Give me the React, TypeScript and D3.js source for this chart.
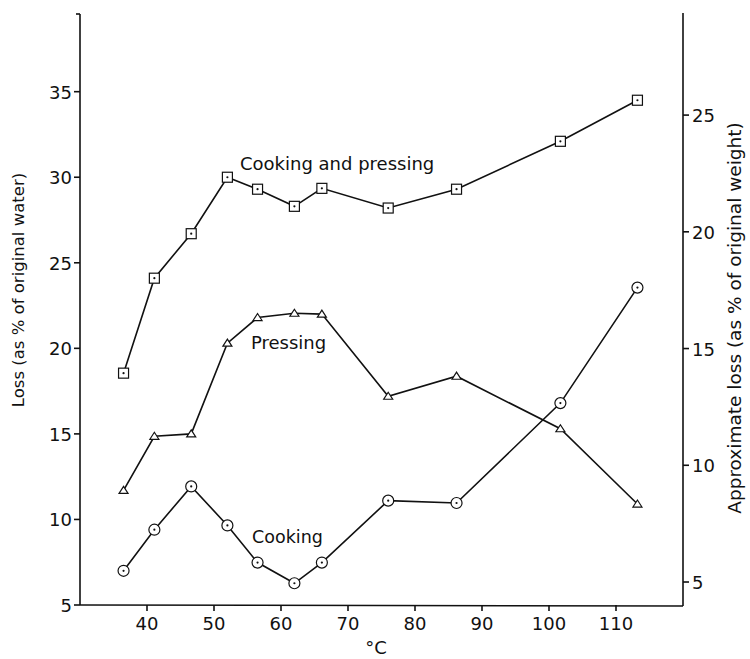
import React from "react";
import * as d3 from "d3";

const temperatures = [36.5, 41.1, 46.6, 52.0, 56.5, 62.0, 66.1, 76.0, 86.2, 101.7, 113.2];
const cookingAndPressing = [18.55, 24.1, 26.7, 30.0, 29.3, 28.3, 29.35, 28.2, 29.3, 32.1, 34.5];
const pressing = [11.7, 14.86, 15.0, 20.3, 21.8, 22.05, 22.0, 17.2, 18.37, 15.3, 10.9];
const cooking = [7.0, 9.4, 11.93, 9.65, 7.48, 6.27, 7.48, 11.1, 10.96, 16.8, 23.55];

const xTicks = [40, 50, 60, 70, 80, 90, 100, 110];
const leftTicks = [5, 10, 15, 20, 25, 30, 35];
const rightTicks = [5, 10, 15, 20, 25];

const seriesNames = ["Cooking and pressing", "Pressing", "Cooking"];

const W = 750;
const H = 659;
const left = 80;
const right = 683;
const top = 14;
const bottom = 605;

const FONT = "'DejaVu Sans', sans-serif";

export default function App() {
  const x = d3.scaleLinear().domain([30, 120]).range([left, right]);
  const yL = d3.scaleLinear().domain([5, 39.54]).range([bottom, top]);
  const yR = d3.scaleLinear().domain([4.015, 29.33]).range([bottom, top]);

  const line = d3
    .line<[number, number]>()
    .x((d) => x(d[0]))
    .y((d) => yL(d[1]));

  const mk = (vals: number[]) => temperatures.map((t, i) => [t, vals[i]] as [number, number]);

  const sq = mk(cookingAndPressing);
  const pr = mk(pressing);
  const ck = mk(cooking);

  const stroke = "#111";

  return (
    <svg width={W} height={H} style={{ position: "absolute", left: 0, top: 0, background: "#fff" }}>
      <rect x={0} y={0} width={W} height={H} fill="#fff" />
      {/* axes */}
      <g stroke={stroke} strokeWidth={1.6} fill="none">
        <line x1={left} y1={top} x2={left} y2={bottom} />
        <line x1={left - 4} y1={top} x2={left} y2={top} />
        <line x1={right} y1={top - 1} x2={right} y2={bottom + 1} />
        <line x1={left} y1={bottom} x2={right} y2={bottom + 1} />
        {xTicks.map((t) => (
          <line key={"xt" + t} x1={x(t)} x2={x(t)} y1={bottom} y2={bottom + 6} />
        ))}
        {leftTicks.map((t) => (
          <line key={"lt" + t} x1={left - 6} x2={left} y1={yL(t)} y2={yL(t)} />
        ))}
        {rightTicks.map((t) => (
          <line key={"rt" + t} x1={right} x2={right + 6} y1={yR(t)} y2={yR(t)} />
        ))}
      </g>
      {/* tick labels */}
      <g fontFamily={FONT} fontSize={18} fill={stroke}>
        {xTicks.map((t) => (
          <text key={"xl" + t} x={x(t)} y={bottom + 25} textAnchor="middle">
            {t}
          </text>
        ))}
        {leftTicks.map((t) => (
          <text key={"ll" + t} x={left - 8} y={yL(t) + 7} textAnchor="end">
            {t}
          </text>
        ))}
        {rightTicks.map((t) => (
          <text key={"rl" + t} x={right + 9} y={yR(t) + 7} textAnchor="start">
            {t}
          </text>
        ))}
        <text x={376} y={654} textAnchor="middle">°C</text>
        <text transform={`translate(24,290) rotate(-90)`} textAnchor="middle" fontSize={16.5}>
          Loss (as % of original water)
        </text>
        <text transform={`translate(741,318) rotate(-90)`} textAnchor="middle" fontSize={18.5}>
          Approximate loss (as % of original weight)
        </text>
      </g>
      {/* lines */}
      <g fill="none" stroke={stroke} strokeWidth={1.6}>
        <path d={line(sq) || ""} />
        <path d={line(pr) || ""} />
        <path d={line(ck) || ""} />
      </g>
      {/* markers */}
      <g stroke={stroke} strokeWidth={1.2} fill="#fff">
        {sq.map((d, i) => (
          <g key={"s" + i}>
            <rect x={x(d[0]) - 5} y={yL(d[1]) - 5} width={10} height={10} />
            <circle cx={x(d[0])} cy={yL(d[1])} r={1.1} fill={stroke} stroke="none" />
          </g>
        ))}
        {pr.map((d, i) => {
          const cx = x(d[0]);
          const cy = yL(d[1]);
          return (
            <path
              key={"p" + i}
              d={`M${cx - 4.5},${cy + 3} L${cx + 4.5},${cy + 3} L${cx},${cy - 4} Z`}
            />
          );
        })}
        {ck.map((d, i) => (
          <g key={"c" + i}>
            <circle cx={x(d[0])} cy={yL(d[1])} r={5.5} />
            <circle cx={x(d[0])} cy={yL(d[1])} r={1.1} fill={stroke} stroke="none" />
          </g>
        ))}
      </g>
      {/* series labels */}
      <g fontFamily={FONT} fontSize={18} fill={stroke}>
        <text x={240} y={170}>{seriesNames[0]}</text>
        <text x={251} y={349}>{seriesNames[1]}</text>
        <text x={252} y={543} fontSize={17.5}>{seriesNames[2]}</text>
      </g>
    </svg>
  );
}
